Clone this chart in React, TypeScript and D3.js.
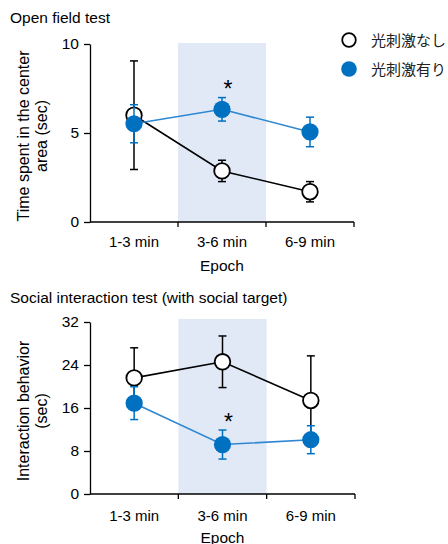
import { useEffect, useRef } from 'react';
import * as d3 from 'd3';

const epochs = ['1-3 min', '3-6 min', '6-9 min'];

// Open field test
const openNoStim = [6.0, 2.87, 1.7];
const openNoStimErr = [3.05, 0.6, 0.57];
const openStim = [5.52, 6.33, 5.06];
const openStimErr = [1.07, 0.66, 0.83];
const openTicks = [0, 5, 10];

// Social interaction test
const socialNoStim = [21.6, 24.6, 17.4];
const socialNoStimErr = [5.6, 4.8, 8.3];
const socialStim = [16.9, 9.2, 10.1];
const socialStimErr = [3.05, 2.7, 2.6];
const socialTicks = [0, 8, 16, 24, 32];

const legendLabels = ['光刺激なし', '光刺激有り'];

const FONT = 'Arial, "Liberation Sans", sans-serif';
const BLUE = '#0070C0';
const BLUE_LINE = '#2E87D2';
const SHADE = '#E1E9F6';

export default function App() {
    const ref = useRef(null);

    useEffect(() => {
        const svg = d3.select(ref.current);
        svg.selectAll('*').remove();

        const panels = [
            {
                title: 'Open field test', titleY: 23,
                yLabel: ['Time spent in the center', 'area (sec)'], yLabelMid: 136,
                domain: [0, 10], ticks: openTicks, yRange: [222, 44], shadeTop: 43,
                xRange: [90, 354],
                noStim: openNoStim, noStimErr: openNoStimErr,
                stim: openStim, stimErr: openStimErr,
                starY: 97, xLabelY: 247, epochY: 271,
            },
            {
                title: 'Social interaction test (with social target)', titleY: 303,
                yLabel: ['Interaction behavior', '(sec)'], yLabelMid: 411,
                domain: [0, 32], ticks: socialTicks, yRange: [494, 322], shadeTop: 319,
                xRange: [90, 355],
                noStim: socialNoStim, noStimErr: socialNoStimErr,
                stim: socialStim, stimErr: socialStimErr,
                starY: 430, xLabelY: 521, epochY: 543,
            },
        ];

        panels.forEach((p) => {
            const g = svg.append('g');
            const x = d3.scaleBand().domain(epochs).range(p.xRange).paddingInner(0).paddingOuter(0);
            const y = d3.scaleLinear().domain(p.domain).range(p.yRange);
            const cx = (d) => x(d) + x.bandwidth() / 2;

            // shaded stimulation epoch
            g.append('rect')
                .attr('x', x(epochs[1]))
                .attr('y', p.shadeTop)
                .attr('width', x.bandwidth())
                .attr('height', y(0) - p.shadeTop)
                .attr('fill', SHADE);

            // title
            g.append('text')
                .attr('x', 10).attr('y', p.titleY)
                .attr('font-family', FONT).attr('font-size', 15.5)
                .text(p.title);

            // y axis
            const yAxis = g.append('g')
                .attr('transform', `translate(${p.xRange[0]},0)`)
                .call(d3.axisLeft(y).tickValues(p.ticks).tickSize(6).tickPadding(5).tickSizeOuter(0));
            yAxis.selectAll('line, path').attr('stroke', '#000').attr('stroke-width', 1.3);
            yAxis.selectAll('text').attr('font-family', FONT).attr('font-size', 15.5).attr('fill', '#000');

            // x axis with ticks at band boundaries
            g.append('line')
                .attr('x1', p.xRange[0]).attr('x2', p.xRange[1])
                .attr('y1', y(0)).attr('y2', y(0))
                .attr('stroke', '#000').attr('stroke-width', 1.3);
            g.selectAll('.xtick')
                .data(epochs)
                .enter()
                .append('line')
                .attr('x1', (d) => x(d) + x.bandwidth())
                .attr('x2', (d) => x(d) + x.bandwidth())
                .attr('y1', y(0)).attr('y2', y(0) + 5)
                .attr('stroke', '#000').attr('stroke-width', 1.3);
            g.selectAll('.xlab')
                .data(epochs)
                .enter()
                .append('text')
                .attr('x', cx).attr('y', p.xLabelY)
                .attr('text-anchor', 'middle')
                .attr('font-family', FONT).attr('font-size', 15)
                .text((d) => d);
            g.append('text')
                .attr('x', cx(epochs[1])).attr('y', p.epochY)
                .attr('text-anchor', 'middle')
                .attr('font-family', FONT).attr('font-size', 15.5)
                .text('Epoch');

            // y label
            const yl = g.append('text')
                .attr('transform', `translate(29,${p.yLabelMid}) rotate(-90)`)
                .attr('text-anchor', 'middle')
                .attr('font-family', FONT).attr('font-size', 16);
            p.yLabel.forEach((line, i) => {
                yl.append('tspan').attr('x', 0).attr('dy', i === 0 ? 0 : 18).text(line);
            });

            const drawSeries = (vals, errs, color, lineColor, open) => {
                const s = g.append('g');
                // error bars
                vals.forEach((v, i) => {
                    const xc = cx(epochs[i]);
                    const eb = s.append('g').attr('stroke', color).attr('stroke-width', 1.5);
                    eb.append('line').attr('x1', xc).attr('x2', xc).attr('y1', y(v - errs[i])).attr('y2', y(v + errs[i]));
                    [v - errs[i], v + errs[i]].forEach((e) => {
                        eb.append('line').attr('x1', xc - 4).attr('x2', xc + 4).attr('y1', y(e)).attr('y2', y(e));
                    });
                });
                const line = d3.line().x((d, i) => cx(epochs[i])).y((d) => y(d));
                s.append('path').datum(vals)
                    .attr('d', line)
                    .attr('fill', 'none')
                    .attr('stroke', lineColor)
                    .attr('stroke-width', 1.6);
                s.selectAll('circle')
                    .data(vals)
                    .enter()
                    .append('circle')
                    .attr('cx', (d, i) => cx(epochs[i]))
                    .attr('cy', (d) => y(d))
                    .attr('r', open ? 7.8 : 8.6)
                    .attr('fill', open ? '#fff' : color)
                    .attr('stroke', open ? '#000' : 'none')
                    .attr('stroke-width', 1.8);
            };

            drawSeries(p.noStim, p.noStimErr, '#000', '#000', true);
            drawSeries(p.stim, p.stimErr, BLUE, BLUE_LINE, false);

            // significance mark
            g.append('text')
                .attr('x', cx(epochs[1]) + 6).attr('y', p.starY)
                .attr('text-anchor', 'middle')
                .attr('font-family', FONT).attr('font-size', 23)
                .text('*');
        });

        // legend
        const lg = svg.append('g');
        legendLabels.forEach((label, i) => {
            const ly = 40 + i * 29;
            lg.append('circle')
                .attr('cx', 349).attr('cy', ly)
                .attr('r', i === 0 ? 6.8 : 7.8)
                .attr('fill', i === 0 ? '#fff' : BLUE)
                .attr('stroke', i === 0 ? '#000' : 'none')
                .attr('stroke-width', 1.8);
            lg.append('text')
                .attr('x', 371).attr('y', ly + 5.5)
                .attr('font-family', '"Noto Sans CJK JP", sans-serif')
                .attr('font-size', 15)
                .attr('fill', '#222')
                .text(label);
        });
    }, []);

    return (
        <svg
            ref={ref}
            width={448}
            height={544}
            style={{ position: 'absolute', left: 0, top: 0, background: '#fff' }}
        />
    );
}
